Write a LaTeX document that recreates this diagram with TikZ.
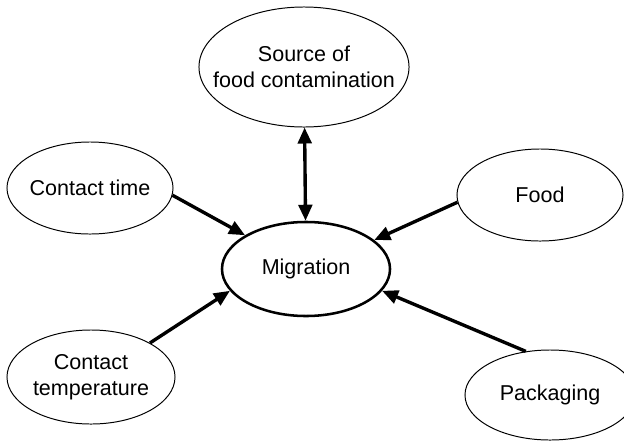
\documentclass[tikz,border=0pt]{standalone}
\usepackage{fontspec}
\setmainfont{Liberation Sans}
\usetikzlibrary{shapes.geometric,arrows.meta}

\begin{document}
\begin{tikzpicture}[x=0.025cm,y=-0.025cm,>={Triangle[length=0.4cm,width=0.34cm]},
	every node/.style={shape=ellipse,draw,line width=0.7pt,inner sep=-0.5cm,align=center,font=\fontsize{15.3}{18.5}\selectfont},
	link/.style={line width=2.4pt}]
	% frame of the picture
	\clip (0,0) rectangle (624,442);
	% create the nodes
	\node (mig) [minimum width=4.2cm,minimum height=2.35cm,line width=1.8pt] at (306,269) {Migration};
	\node (src) [minimum width=5.25cm,minimum height=3cm] at (304,67) {Source of\\food contamination};
	\node (ctime) [minimum width=4.15cm,minimum height=2.3cm] at (90,188) {Contact time};
	\node (food) [minimum width=4.15cm,minimum height=2.3cm] at (540,195) {Food};
	\node (ctemp) [minimum width=4.2cm,minimum height=2.35cm] at (91,377) {Contact\\temperature};
	\node (pack) [minimum width=4.25cm,minimum height=2.25cm] at (550,395) {Packaging};
	
	% connect the nodes
	\draw[<->,link] (src) -- (mig);
	\draw[->,link] (ctime.-5) -- (mig.151);
	\draw[->,link] (food.-175) -- (mig.23);
	\draw[->,link] (ctemp.30) -- (mig.-164);
	\draw[->,link] (pack.119) -- (mig.-16);
\end{tikzpicture}
\end{document}
